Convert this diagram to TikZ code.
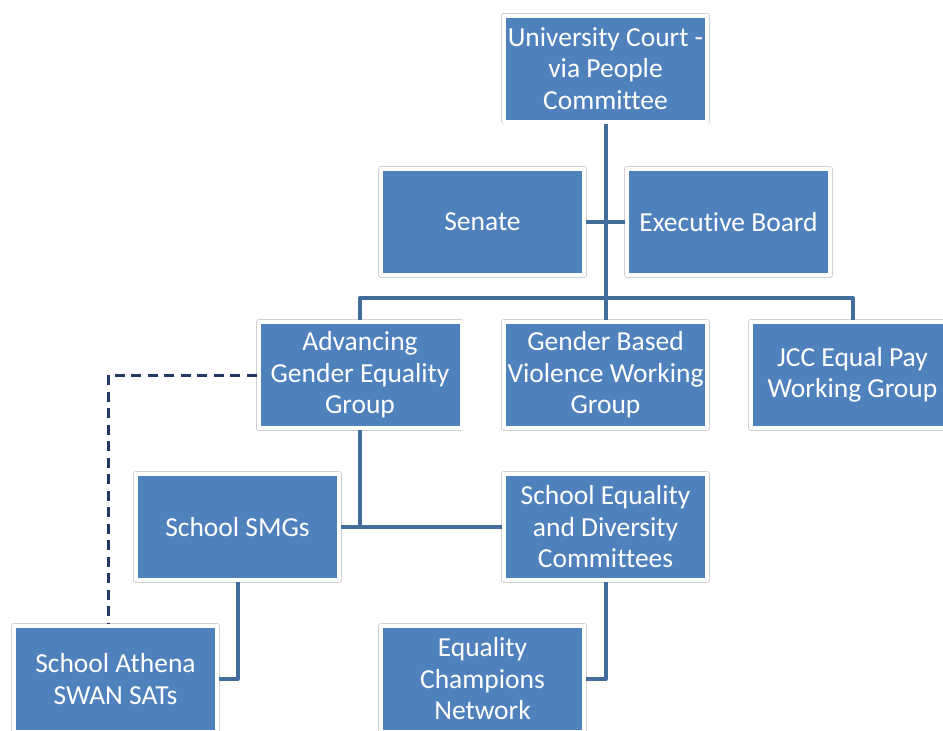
\documentclass[tikz,border=0pt]{standalone}
\usepackage{fontspec}
\setmainfont{Carlito}[Ligatures=NoCommon]
\definecolor{boxblue}{RGB}{79,129,189}
\definecolor{linkblue}{RGB}{65,108,156}
\definecolor{navy}{RGB}{31,56,100}
\tikzset{
  orgbox/.style={fill=boxblue, draw=white, line width=4pt,
    preaction={draw=black!18, line width=5.5pt},
    minimum width=203pt, minimum height=106pt, inner sep=0pt,
    text=white, align=center, font=\fontsize{27.5}{31.5}\selectfont},
  link/.style={draw=linkblue, line width=4pt},
  dotlink/.style={draw=navy, line width=3pt, dash pattern=on 10pt off 6.5pt}
}
\begin{document}
\begin{tikzpicture}[x=1pt, y=-1pt, line join=round]

	\clip (0,0) rectangle (943,731);

	% boxes
	\node[orgbox] (court) at (605.5,68.5) {University Court -\\via People\\Committee};
	\node[orgbox] (senate) at (482.5,222) {Senate};
	\node[orgbox] (exec) at (728.5,222) {Executive Board};
	\node[orgbox] (ageg) at (360,375) {Advancing\\Gender Equality\\Group};
	\node[orgbox] (gbv) at (605.5,375) {Gender Based\\Violence Working\\Group};
	\node[orgbox] (jcc) at (852.5,375) {JCC Equal Pay\\Working Group};
	\node[orgbox] (smg) at (237.5,527) {School SMGs};
	\node[orgbox] (sedc) at (605.5,527) {School Equality\\and Diversity\\Committees};
	\node[orgbox] (athena) at (115.5,679) {School Athena\\SWAN SATs};
	\node[orgbox] (champ) at (482.5,679) {Equality\\Champions\\Network};

	% reporting lines
	\coordinate (bus) at (605.5,298);
	\coordinate (corner) at (108,375);
	\draw[link] (court) -- (gbv);
	\draw[link] (senate) -- (exec);
	\draw[link] (ageg.north) |- (bus) -| (jcc.north);
	\draw[link] (ageg.south) -- (ageg.south |- smg.east);
	\draw[link] (smg) -- (sedc);
	\draw[link] (smg.south) |- (athena.east);
	\draw[link] (sedc.south) |- (champ.east);
	\draw[dotlink] (ageg.west) -- (corner) -- (corner |- athena.north);

\end{tikzpicture}
\end{document}
